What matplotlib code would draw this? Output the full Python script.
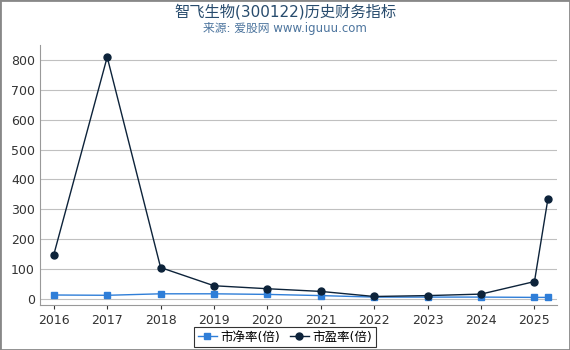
import matplotlib.pyplot as plt

plt.rcParams['font.family'] = ['DejaVu Sans', 'Noto Sans CJK SC']

# 数据 ------------------------------
years = [2016, 2017, 2018, 2019, 2020, 2021, 2022, 2023, 2024, 2025, 2025.25]
pb = [13, 12, 17, 17, 15, 11, 6, 6, 6, 5, 5]
pe = [148, 810, 105, 44, 34, 25, 8, 11, 16, 58, 333]
xticks = [2016, 2017, 2018, 2019, 2020, 2021, 2022, 2023, 2024, 2025]

fig = plt.figure(figsize=(5.7, 3.5), dpi=100)
ax = fig.add_axes([0.07, 0.129, 0.907, 0.742])

ax.plot(years, pb, color='#2f7ed8', marker='s', markersize=5, linewidth=1,
        label='市净率(倍)')
ax.plot(years, pe, color='#0d233a', marker='o', markersize=5, linewidth=1,
        label='市盈率(倍)')

ax.set_xlim(2015.74, 2025.42)
ax.set_ylim(-20, 850)
ax.set_xticks(xticks)
ax.set_xticklabels([str(y) for y in xticks])
ax.set_yticks(range(0, 801, 100))
ax.tick_params(labelsize=9, colors='#333333', length=3)
ax.tick_params(axis='y', length=0)
ax.grid(axis='y', color='#c0c0c0', linewidth=0.8)
ax.set_axisbelow(True)
for s in ['top', 'right']:
    ax.spines[s].set_visible(False)
ax.spines['left'].set_color('#999999')
ax.spines['bottom'].set_color('#999999')

fig.text(0.5, 0.968, '智飞生物(300122)历史财务指标', ha='center', va='center',
         fontsize=11, color='#274b6d')
fig.text(0.5, 0.918, '来源: 爱股网 www.iguuu.com', ha='center', va='center',
         fontsize=8.5, color='#4d759e')

leg = fig.legend(loc='center', bbox_to_anchor=(0.5, 0.037), ncol=2, fontsize=9,
                 frameon=True, fancybox=False, edgecolor='black',
                 handlelength=1.5, handletextpad=0.3, columnspacing=0.8,
                 borderpad=0.3)
leg.get_frame().set_linewidth(0.8)

fig.patches.append(plt.Rectangle((0, 0), 1, 1, transform=fig.transFigure,
                                 fill=False, edgecolor='#888888', linewidth=2))

fig.savefig('out.png', dpi=100)
